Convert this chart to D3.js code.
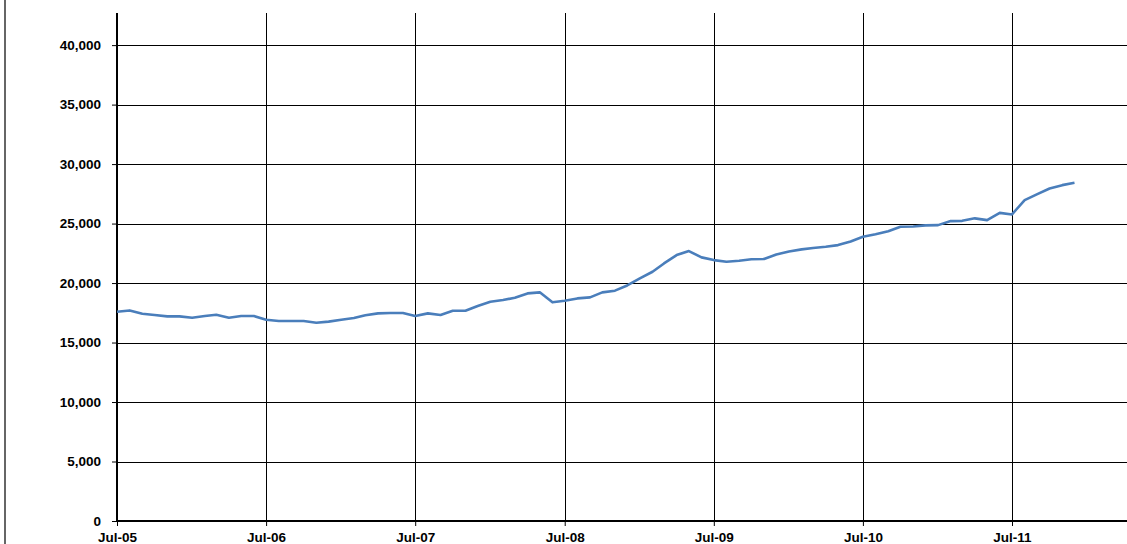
<!DOCTYPE html>
<html>
<head>
<meta charset="utf-8">
<script src="https://cdn.jsdelivr.net/npm/d3@7/dist/d3.min.js"></script>
<style>
  html, body { margin: 0; padding: 0; background: #fff; }
  svg { display: block; }
  .tick text { font-family: "Liberation Sans", Arial, sans-serif; font-weight: bold; font-size: 13.5px; fill: #000; }
</style>
</head>
<body>
<svg id="chart" width="1127" height="544"></svg>
<script>
// Monthly series, Jul-05 .. Dec-11
const startYear = 2005, startMonth = 6; // July 2005
const values = [
  17590, 17700, 17420, 17310, 17200, 17200, 17080, 17230, 17340, 17080, 17230, 17230,
  16920, 16810, 16810, 16810, 16660, 16760, 16920, 17060, 17300, 17450, 17480, 17480,
  17230, 17450, 17310, 17670, 17670, 18070, 18430, 18570, 18770, 19130, 19220, 18380,
  18510, 18710, 18800, 19220, 19360, 19800, 20400, 20950, 21650, 22350, 22690, 22160,
  21930, 21790, 21880, 22000, 22020, 22400, 22650, 22830, 22950, 23050, 23190, 23500,
  23890, 24100, 24350, 24730, 24750, 24850, 24870, 25210, 25230, 25440, 25290, 25900,
  25770, 26970, 27480, 27950, 28230, 28430
];
const yTicks = [0, 5000, 10000, 15000, 20000, 25000, 30000, 35000, 40000];
const xTickLabels = ["Jul-05", "Jul-06", "Jul-07", "Jul-08", "Jul-09", "Jul-10", "Jul-11"];
const yMax = 42700;

const dates = values.map((v, i) => new Date(startYear, startMonth + i, 1));
const xTickDates = xTickLabels.map((l, i) => new Date(startYear + i, startMonth, 1));

const svg = d3.select("#chart");
const mLeft = 117, mRight = 1127, mTop = 13, mBottom = 521;

// x scale: Jul-05 -> left, Jul-11 -> 1012, extended to right edge
const x0 = d3.scaleTime().domain([xTickDates[0], xTickDates[6]]).range([mLeft, 1012]);
const x = d3.scaleTime().domain([xTickDates[0], x0.invert(mRight)]).range([mLeft, mRight]);
const y = d3.scaleLinear().domain([0, yMax]).range([mBottom, mTop]);

// left border
svg.append("line").attr("x1", 5).attr("x2", 5).attr("y1", 0).attr("y2", 544)
  .attr("stroke", "#333").attr("stroke-width", 1.5);

// horizontal gridlines
svg.append("g").selectAll("line").data(yTicks.filter(d => d > 0)).join("line")
  .attr("x1", mLeft).attr("x2", mRight)
  .attr("y1", d => Math.round(y(d)) + 0.5).attr("y2", d => Math.round(y(d)) + 0.5)
  .attr("stroke", "#000").attr("stroke-width", 1);

// vertical gridlines
svg.append("g").selectAll("line").data(xTickDates.slice(1)).join("line")
  .attr("x1", d => Math.round(x(d)) + 0.5).attr("x2", d => Math.round(x(d)) + 0.5)
  .attr("y1", mTop).attr("y2", mBottom)
  .attr("stroke", "#000").attr("stroke-width", 1);

// y axis
const yAxis = d3.axisLeft(y).tickValues(yTicks).tickFormat(d3.format(",")).tickSize(5).tickPadding(11);
const gy = svg.append("g").attr("transform", `translate(${mLeft},0)`).call(yAxis);
gy.select(".domain").remove();
gy.selectAll(".tick line").attr("stroke", "#000");
svg.append("line").attr("x1", mLeft).attr("x2", mLeft).attr("y1", mTop).attr("y2", mBottom + 1)
  .attr("stroke", "#000").attr("stroke-width", 2);

// x axis
const xAxis = d3.axisBottom(x).tickValues(xTickDates).tickFormat((d, i) => xTickLabels[i]).tickSize(5).tickPadding(6);
const gx = svg.append("g").attr("transform", `translate(0,${mBottom})`).call(xAxis);
gx.select(".domain").remove();
gx.selectAll(".tick line").attr("stroke", "#000");
svg.append("line").attr("x1", mLeft - 1).attr("x2", mRight).attr("y1", mBottom).attr("y2", mBottom)
  .attr("stroke", "#000").attr("stroke-width", 2.2);

// series line
const line = d3.line().x((d, i) => x(dates[i])).y(d => y(d));
svg.append("path").datum(values)
  .attr("d", line)
  .attr("fill", "none")
  .attr("stroke", "#4a7ebb")
  .attr("stroke-width", 2.6)
  .attr("stroke-linejoin", "round");
</script>
</body>
</html>
